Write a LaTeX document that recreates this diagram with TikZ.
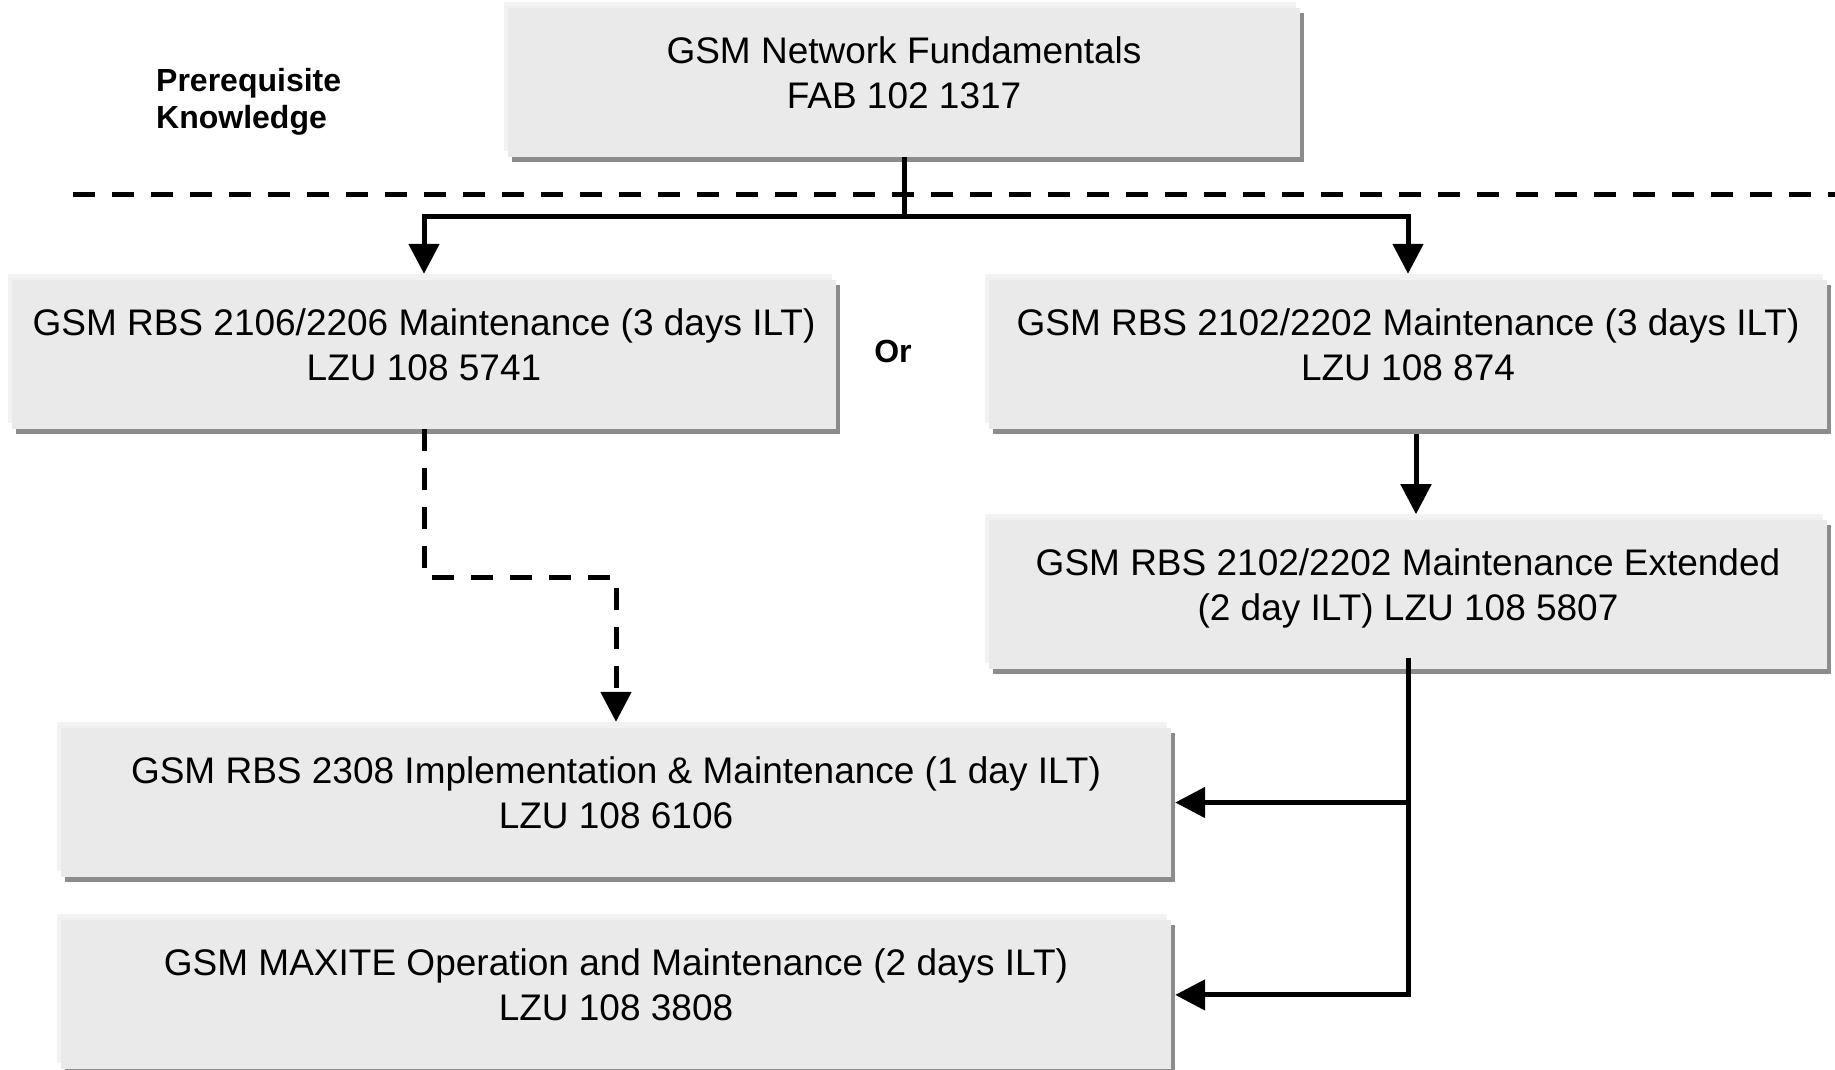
\documentclass[tikz,border=0pt]{standalone}
\usepackage{fontspec}
\setmainfont{Liberation Sans}
\usetikzlibrary{arrows.meta, positioning, shadows}
\definecolor{boxfill}{HTML}{EAEAEA}
\definecolor{boxlight}{HTML}{F2F2F2}
\definecolor{boxshade}{HTML}{8C8C8C}
\tikzset{
  course/.style={fill=boxfill, inner sep=0pt, align=center, minimum height=149pt,
    font=\fontsize{37}{45}\selectfont, text height=72pt, text depth=20pt,
    general shadow={fill=boxlight, shadow xshift=-4pt, shadow yshift=6pt},
    general shadow={fill=boxshade, shadow xshift=4pt, shadow yshift=-5pt}},
  note/.style={font=\fontsize{32}{37}\selectfont\bfseries, align=left, inner sep=0pt},
  link/.style={line width=5pt},
  maybe/.style={line width=5pt, dash pattern=on 22pt off 17pt},
}

\begin{document}
\begin{tikzpicture}[x=1pt, y=-1pt, >={Triangle[length=30pt,width=30pt]}]
	\useasboundingbox (0,0) rectangle (1835,1069);

		\node[course, minimum width=792pt] (fab) at (904,82) {GSM Network Fundamentals\\FAB 102 1317};
		\node[note, anchor=west] (prereq) at (156,102) {Prerequisite\\Knowledge};
		\draw[maybe] (73,194) coordinate (sepL) -- (1835,194) coordinate (sepR);

		\node[course, minimum width=824pt] (m2106) at (424,354.5) {GSM RBS 2106/2206 Maintenance (3 days ILT)\\LZU 108 5741};
		\node[note] (or) at (893,351) {Or};
		\node[course, minimum width=838pt] (m2102) at (1408,354.5) {GSM RBS 2102/2202 Maintenance (3 days ILT)\\LZU 108 874};
		\node[course, minimum width=838pt, below=91pt of m2102] (m2102x) {GSM RBS 2102/2202 Maintenance Extended\\(2 day ILT) LZU 108 5807};
		\node[course, minimum width=1110pt] (i2308) at (616,802.5) {GSM RBS 2308 Implementation \& Maintenance (1 day ILT)\\LZU 108 6106};
		\node[course, minimum width=1110pt, below=43pt of i2308] (maxite) {GSM MAXITE Operation and Maintenance (2 days ILT)\\LZU 108 3808};

		\draw[link] (fab.south) -- ++(0,-60pt) coordinate (split);
		\draw[link, ->] (split) -| ([yshift=6pt]m2106.north);
		\draw[link, ->] (split) -| ([yshift=6pt]m2102.north);
		\draw[link, ->] ([xshift=8pt, yshift=-5pt]m2102.south) -- ([xshift=8pt, yshift=6pt]m2102x.north);
		\draw[maybe, ->] (m2106.south) -- ++(0,-148pt) -| ([yshift=6pt]i2308.north);
		\draw[link, ->] ([yshift=12pt]m2102x.south) |- ([xshift=4pt]maxite.east);
		\draw[link, ->] (m2102x.south |- i2308.east) -- ([xshift=4pt]i2308.east);
	\end{tikzpicture}
\end{document}
